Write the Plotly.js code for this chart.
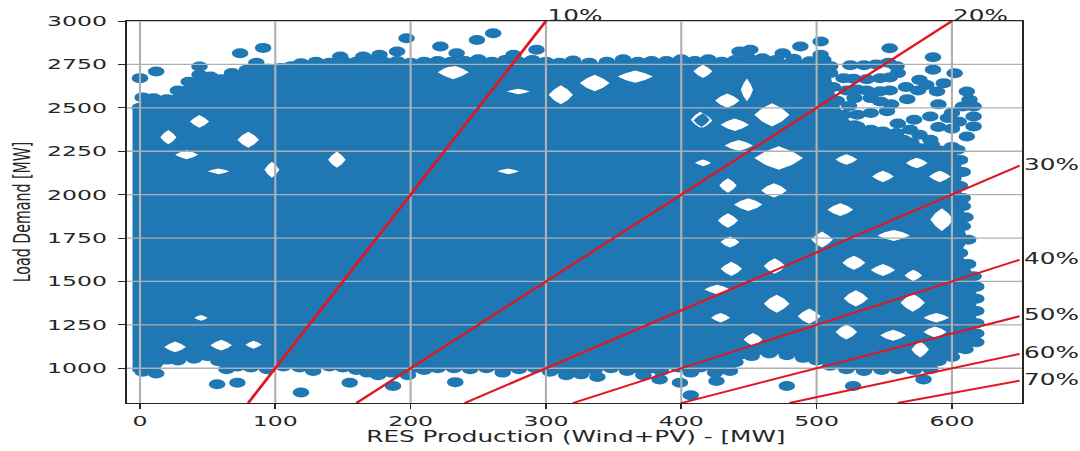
<!DOCTYPE html>
<html><head><meta charset="utf-8">
<script src="https://cdn.plot.ly/plotly-3.0.1.min.js"></script>
<style>
html,body{margin:0;padding:0;background:#fff;overflow:hidden;width:1080px;height:451px}
#wrap{width:1080px;height:451px;overflow:hidden}
#chart{width:655px;height:451px;transform:scale(1.6489,1);transform-origin:0 0}
</style></head><body><div id="wrap"><div id="chart"></div></div>
<script>
// ---- data ----
const sharePct    = [10, 20, 30, 40, 50, 60, 70];
const shareLineX0 = [80, 160, 240, 320, 400, 480, 560];
const shareLineY0 = [800, 800, 800, 800, 800, 800, 800];
const shareLineX1 = [300, 600, 650, 650, 650, 650, 650];
const shareLineY1 = [3000, 3000, 2167, 1625, 1300, 1083, 929];
const xTicks = [0, 100, 200, 300, 400, 500, 600];
const yTicks = [1000, 1250, 1500, 1750, 2000, 2250, 2500, 2750, 3000];
const xRange = [-9.6, 652];
const yRange = [800, 3000];

// points forming the outer rim of the fully overlapped cloud (left→right on top, top→bottom on the right, right→left at the bottom)
const topEdgePts = [[0,2500],[2,2560],[10,2555],[20,2550],[28,2600],[36,2650],[44,2690],[52,2680],[60,2665],[68,2700],[79,2719],[86,2760],[95,2725],[104,2730],[112,2740],[119,2757],[130,2765],[140,2760],[150,2770],[160,2765],[170,2775],[180,2765],[190,2770],[200,2760],[210,2765],[220,2770],[230,2765],[240,2770],[250,2780],[260,2765],[270,2775],[280,2765],[290,2775],[300,2765],[310,2760],[320,2772],[332,2760],[345,2765],[357,2780],[368,2765],[378,2770],[389,2770],[400,2780],[410,2770],[420,2780],[430,2765],[440,2775],[450,2785],[460,2785],[470,2775],[483,2782],[495,2768],[505,2776],[510,2700],[512,2620],[515,2540],[520,2460],[528,2400],[540,2360],[555,2330],[570,2300],[585,2290],[600,2275]];
const rightEdgePts = [[606,2200],[608,2130],[606,2050],[608,1980],[608,1933],[610,1870],[608,1818],[612,1740],[606,1664],[612,1600],[616,1530],[618,1470],[618,1400],[618,1330],[618,1260],[618,1200]];
const bottomEdgePts = [[618,1150],[610,1110],[600,1065],[590,1040],[584,995],[572,990],[560,995],[548,990],[535,985],[522,995],[510,1015],[500,1045],[490,1060],[478,1075],[465,1085],[452,1070],[440,1035],[436,985],[425,975],[414,1005],[407,975],[398,1005],[385,985],[372,960],[360,985],[348,1000],[336,990],[326,965],[315,960],[303,980],[292,1000],[280,995],[268,975],[256,1000],[244,995],[232,1000],[220,1000],[210,990],[198,960],[186,975],[176,960],[168,975],[160,990],[150,1005],[140,1010],[128,985],[118,1005],[106,1010],[94,995],[82,1005],[72,1010],[64,995],[58,1040],[50,1070],[40,1055],[28,1045],[20,1050],[12,970],[2,980]];
const leftEdgeRES = -5.5;

// empty gaps inside the cloud: [RES min, RES max, load min, load max]
const gapBoxes = [
  [220,243,2665,2745],[325,347,2595,2690],[353,379,2645,2715],[302,320,2520,2630],[271,288,2578,2610],[264,280,2118,2150],
  [407,421,2385,2477],[410,422,2163,2202],[37,51,2385,2458],[15,27,2290,2372],[72,88,2270,2362],[26,43,2204,2256],
  [92,103,2097,2190],[50,66,2118,2150],[139,152,2155,2248],[52,68,1102,1164],[18,34,1092,1154],[78,90,1112,1158],
  [40,50,1273,1307],[461,480,1320,1424],[520,538,1356,1449],[562,580,1326,1429],[486,503,1256,1344],[514,530,1166,1252],
  [570,583,1062,1155],[429,445,1532,1613],[461,477,1544,1634],[519,536,1567,1648],[540,558,1532,1600],[496,512,1695,1787],
  [446,460,1129,1203],[454,480,2392,2527],[454,490,2143,2278],[409,423,2672,2748],[425,443,2500,2583],[444,453,2538,2669],
  [409,423,2385,2468],[429,450,2366,2439],[432,453,2251,2315],[428,441,2011,2094],[459,478,1983,2066],[439,460,1906,1979],
  [427,442,1810,1893],[417,436,1427,1481],[422,436,1264,1318],[429,443,1695,1759],[508,527,1877,1950],[584,601,1791,1922],
  [545,569,1733,1797],[565,578,1503,1567],[579,598,1264,1318],[547,566,1158,1222],[579,596,1177,1241],
  [514,530,2172,2233],[541,557,2072,2138],[566,582,2152,2213],[583,599,2072,2138]
];

// individually visible points outside the solid part
const topOutliers = [[0,2671],[12,2709],[44,2738],[74,2814],[91,2845],[148,2795],[165,2795],[177,2805],[190,2824],[197,2901],[222,2853],[234,2814],[249,2891],[261,2929],[276,2805],[293,2834],[443,2824],[451,2834],[475,2814],[488,2853],[503,2882],[503,2805]];
const sparsePts = [[510,2740],[525,2745],[535,2745],[544,2750],[553,2760],[559,2740],[554,2843],[586,2791],[586,2719],[602,2699],[520,2670],[527,2668],[537,2665],[547,2670],[554,2675],[576,2661],[581,2632],[594,2642],[522,2600],[530,2605],[537,2600],[547,2595],[554,2600],[567,2550],[589,2594],[611,2594],[613,2546],[608,2508],[616,2508],[528,2556],[540,2556],[547,2537],[584,2450],[572,2431],[597,2441],[616,2450],[616,2393],[611,2335],[530,2460],[540,2470],[552,2480],[530,2393],[540,2374],[549,2364],[559,2355],[569,2374],[576,2345],[584,2316],[604,2259],[564,2316],[600,2380],[560,2700],[566,2620],[555,2520],[560,2410],[590,2520],[600,2470],[590,2390],[605,2420],[575,2600],[524,2510]];
const bottomOutliers = [[579,936],[527,898],[478,898],[426,927],[407,845],[399,917],[384,936],[338,950],[233,920],[187,898],[155,917],[119,860],[72,917],[57,908]];

// ---- build ----
const BLUE = '#1f77b4';
const RED = 'rgb(226,22,32)';
const INK = '#262626';

const rim = topEdgePts.concat(rightEdgePts, bottomEdgePts);
const coreX = [leftEdgeRES, leftEdgeRES].concat(rim.map(p => p[0]));
const coreY = [rim[rim.length - 1][1], topEdgePts[0][1]].concat(rim.map(p => p[1]));
// gaps between overlapping discs: concave four-cornered sub-rings, wound opposite to the outer rim
gapBoxes.forEach(b => {
  const [x0, x1, y0, y1] = b, xm = (x0 + x1) / 2, ym = (y0 + y1) / 2;
  const ix = (x1 - x0) * 0.28, iy = (y1 - y0) * 0.28;
  coreX.push(null, x0, xm - ix, xm, xm + ix, x1, xm + ix, xm, xm - ix);
  coreY.push(null, ym, ym - iy, y0, ym - iy, ym, ym + iy, y1, ym + iy);
});
const dots = rim.concat(topOutliers, sparsePts, bottomOutliers);

const traces = [];
traces.push({type:'scatter', mode:'lines', x:coreX, y:coreY, fill:'toself', connectgaps:false,
  fillcolor:BLUE, line:{width:0, color:BLUE}, hoverinfo:'skip'});
traces.push({type:'scatter', mode:'markers', x:dots.map(p=>p[0]), y:dots.map(p=>p[1]),
  marker:{size:10, color:BLUE, line:{width:0}}, hoverinfo:'skip'});

// grid drawn above the points (as in the reference)
const gx = [], gy = [];
xTicks.forEach(t => { gx.push(t, t, null); gy.push(yRange[0], yRange[1], null); });
yTicks.forEach(t => { gx.push(xRange[0], xRange[1], null); gy.push(t, t, null); });
traces.push({type:'scatter', mode:'lines', x:gx, y:gy, line:{color:'#b0b0b0', width:1.3}, hoverinfo:'skip', connectgaps:false});

sharePct.forEach((p, i) => {
  traces.push({type:'scatter', mode:'lines', x:[shareLineX0[i], shareLineX1[i]], y:[shareLineY0[i], shareLineY1[i]],
    line:{color:RED, width:1.9}, hoverinfo:'skip'});
});

const annotations = sharePct.map((p, i) => {
  const top = shareLineY1[i] >= yRange[1];
  return {xref:'x', yref:'y', x:shareLineX1[i], y:shareLineY1[i], text:p + '%', showarrow:false,
    xanchor:'left', yanchor: top ? 'bottom' : 'middle', xshift: top ? -1 : 1, yshift: top ? -6 : 1,
    font:{family:'DejaVu Sans', size:15, color:INK}};
});
annotations.push({xref:'paper', yref:'paper', x:0.5, y:-0.089, xanchor:'center', yanchor:'middle',
  text:'RES Production (Wind+PV) - [MW]', showarrow:false, font:{family:'DejaVu Sans', size:15, color:INK}});
annotations.push({xref:'paper', yref:'paper', x:-0.1173, y:0.5, xanchor:'center', yanchor:'middle', textangle:-90,
  text:'Load Demand [MW]', showarrow:false, font:{family:'DejaVu Sans', size:14.2, color:INK}});

const axisCommon = {showgrid:false, zeroline:false, showline:true, mirror:true, linecolor:INK, linewidth:1.2,
  ticks:'outside', tickwidth:1, tickcolor:INK, tickfont:{family:'DejaVu Sans', size:14.3, color:INK}};

const layout = {
  width:655, height:451,
  margin:{l:77, r:35, t:21, b:48, pad:0},
  paper_bgcolor:'#fff', plot_bgcolor:'#fff', showlegend:false,
  font:{family:'DejaVu Sans', color:INK},
  xaxis:Object.assign({}, axisCommon, {range:xRange, tickvals:xTicks, ticktext:xTicks.map(String), ticklen:5}),
  yaxis:Object.assign({}, axisCommon, {range:yRange, tickvals:yTicks, ticktext:yTicks.map(String), ticklen:4, ticklabelstandoff:4}),
  annotations:annotations
};

Plotly.newPlot('chart', traces, layout, {staticPlot:true, displayModeBar:false});
</script></body></html>
